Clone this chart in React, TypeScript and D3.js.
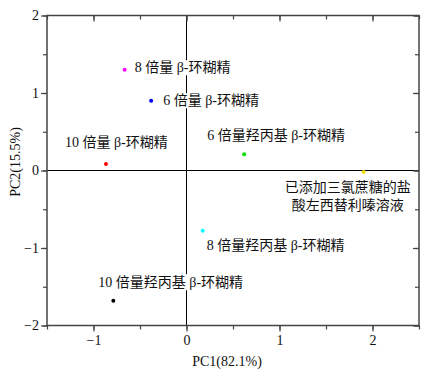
import React, { useEffect, useRef } from "react";
import * as d3 from "d3";

const sampleNames = [
  "8 倍量 β-环糊精",
  "6 倍量 β-环糊精",
  "10 倍量 β-环糊精",
  "6 倍量羟丙基 β-环糊精",
  "已添加三氯蔗糖的盐|酸左西替利嗪溶液",
  "8 倍量羟丙基 β-环糊精",
  "10 倍量羟丙基 β-环糊精",
];
const pc1Values = [-0.665, -0.38, -0.866, 0.62, 1.905, 0.174, -0.787];
const pc2Values = [1.3, 0.9, 0.084, 0.21, -0.02, -0.777, -1.68];
const pointColors = ["#ff00ff", "#0000ff", "#ff0000", "#00e000", "#f0e000", "#00ffff", "#000000"];
const xTicks = [-1, 0, 1, 2];
const yTicks = [-2, -1, 0, 1, 2];
const xTitle = "PC1(82.1%)";
const yTitle = "PC2(15.5%)";

// label placement: pixel offsets relative to point, anchor
const labelLayout = [
  { dx: 10, dy: -2, anchor: "start" },
  { dx: 12, dy: 0, anchor: "start" },
  { dx: -41, dy: -21, anchor: "start" },
  { dx: -37, dy: -19, anchor: "start" },
  { dx: -16, dy: 15, anchor: "middle" },
  { dx: 4, dy: 15, anchor: "start" },
  { dx: -15, dy: -18, anchor: "start" },
];

const W = 437;
const H = 370;
const M = { left: 47, right: 18, top: 15.5, bottom: 44.5 };
const FONT = "'Times New Roman', 'Liberation Serif', 'Noto Sans CJK SC', serif";

export default function App() {
  const ref = useRef<SVGSVGElement>(null);
  useEffect(() => {
    const svg = d3.select(ref.current);
    svg.selectAll("*").remove();
    const x = d3.scaleLinear().domain([-1.5, 2.5]).range([M.left, W - M.right]);
    const y = d3.scaleLinear().domain([-2, 2]).range([H - M.bottom, M.top]);
    const g = svg.append("g");
    const axisColor = "#444";

    // crosshair
    g.append("line").attr("x1", x(0)).attr("x2", x(0)).attr("y1", y(2)).attr("y2", y(-2))
      .attr("stroke", "#000").attr("stroke-width", 1);
    g.append("line").attr("x1", x(-1.5)).attr("x2", x(2.5)).attr("y1", y(0)).attr("y2", y(0))
      .attr("stroke", "#000").attr("stroke-width", 1);

    const xMinor = d3.range(-1.5, 2.51, 0.5);
    const yMinor = d3.range(-2, 2.01, 0.5);
    const fmt = (d: any) => (d < 0 ? "\u2212" + Math.abs(d) : String(d));

    const axes = [
      g.append("g").attr("transform", `translate(0,${y(-2)})`)
        .call(d3.axisBottom(x).tickValues(xMinor).tickSize(4).tickFormat(() => "")),
      g.append("g").attr("transform", `translate(0,${y(-2)})`)
        .call(d3.axisBottom(x).tickValues(xTicks).tickSize(6).tickPadding(4).tickFormat(fmt)),
      g.append("g").attr("transform", `translate(0,${y(2)})`)
        .call(d3.axisTop(x).tickValues(xMinor).tickSize(-4).tickFormat(() => "")),
      g.append("g").attr("transform", `translate(0,${y(2)})`)
        .call(d3.axisTop(x).tickValues(xTicks).tickSize(-6).tickFormat(() => "")),
      g.append("g").attr("transform", `translate(${x(-1.5)},0)`)
        .call(d3.axisLeft(y).tickValues(yMinor).tickSize(4).tickFormat(() => "")),
      g.append("g").attr("transform", `translate(${x(-1.5)},0)`)
        .call(d3.axisLeft(y).tickValues(yTicks).tickSize(6).tickPadding(2).tickFormat(fmt)),
      g.append("g").attr("transform", `translate(${x(2.5)},0)`)
        .call(d3.axisRight(y).tickValues(yMinor).tickSize(-4).tickFormat(() => "")),
      g.append("g").attr("transform", `translate(${x(2.5)},0)`)
        .call(d3.axisRight(y).tickValues(yTicks).tickSize(-6).tickFormat(() => "")),
    ];
    axes.forEach((a) => {
      a.select("path.domain").remove();
      a.selectAll("line").attr("stroke", axisColor).attr("stroke-width", 1.2);
      a.selectAll("text").attr("font-family", FONT).attr("font-size", 14).attr("fill", "#111");
    });
    g.append("rect").attr("x", x(-1.5)).attr("y", y(2)).attr("width", x(2.5) - x(-1.5))
      .attr("height", y(-2) - y(2)).attr("fill", "none").attr("stroke", axisColor).attr("stroke-width", 1.5);

    // labels with white background
    const lab = g.append("g");
    sampleNames.forEach((name, i) => {
      const px = x(pc1Values[i]);
      const py = y(pc2Values[i]);
      const L = labelLayout[i];
      const lines = name.split("|");
      const t = lab.append("text")
        .attr("font-family", FONT).attr("font-size", 14).attr("fill", "#111")
        .attr("text-anchor", L.anchor);
      lines.forEach((ln, k) => {
        t.append("tspan").attr("x", px + L.dx).attr("y", py + L.dy + k * 18.5)
          .attr("dominant-baseline", "central").text(ln);
      });
      const bb = (t.node() as SVGTextElement).getBBox();
      lab.insert("rect", () => t.node())
        .attr("x", bb.x - 1).attr("y", bb.y).attr("width", bb.width + 2).attr("height", bb.height)
        .attr("fill", "#fff");
    });

    // points
    g.append("g").selectAll("circle").data(pc1Values).join("circle")
      .attr("cx", (d) => x(d)).attr("cy", (_d, i) => y(pc2Values[i]))
      .attr("r", 2).attr("fill", (_d, i) => pointColors[i]);

    // axis titles
    g.append("text").attr("x", 227).attr("y", y(-2) + 36).attr("dominant-baseline", "central")
      .attr("text-anchor", "middle").attr("font-family", FONT).attr("font-size", 14).attr("fill", "#111").text(xTitle);
    g.append("text").attr("transform", `translate(15,162) rotate(-90)`).attr("dominant-baseline", "central")
      .attr("text-anchor", "middle").attr("font-family", FONT).attr("font-size", 14).attr("fill", "#111").text(yTitle);
  }, []);
  return (
    <svg ref={ref} width={W} height={H} style={{ position: "absolute", left: 0, top: 0, background: "#fff" }} />
  );
}
